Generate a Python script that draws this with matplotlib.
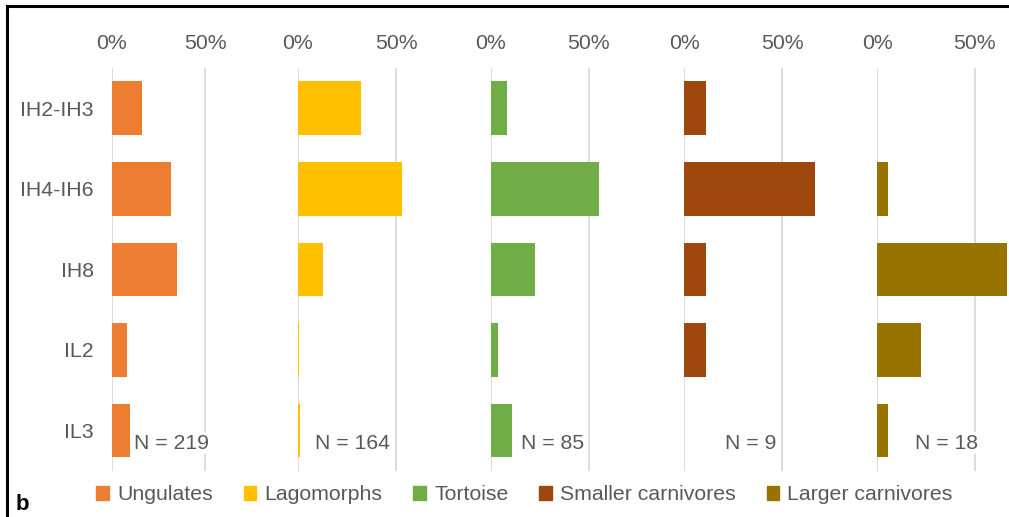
import matplotlib.pyplot as plt
from matplotlib.lines import Line2D

plt.rcParams['font.family'] = ['Liberation Sans', 'DejaVu Sans']

# layers, top to bottom
levels = ['IH2-IH3', 'IH4-IH6', 'IH8', 'IL2', 'IL3']

# share of each group per layer (%)
groups = ['Ungulates', 'Lagomorphs', 'Tortoise', 'Smaller carnivores', 'Larger carnivores']
ungulates = [16.0, 31.5, 34.7, 8.2, 9.6]
lagomorphs = [32.3, 53.0, 12.8, 0.6, 1.2]
tortoise = [8.2, 55.3, 22.4, 3.5, 10.6]
smaller_carn = [11.1, 66.7, 11.1, 11.1, 0.0]
larger_carn = [0.0, 5.6, 66.7, 22.2, 5.6]
totals = [219, 164, 85, 9, 18]

colors = ['#ED7D31', '#FFC000', '#70AD47', '#9E480E', '#997300']
series = [ungulates, lagomorphs, tortoise, smaller_carn, larger_carn]

W, H = 1009, 517
fig = plt.figure(figsize=(W / 100, H / 100), dpi=100)

# panel layout in pixels: left edge (0%) and pixels per 100%
lefts = [111.7, 297.7, 491, 684.3, 877.3]
scales = [187.2, 196.6, 195.4, 195.4, 194.6]
n_right = [0.518, 0.469, 0.476, 0.469, 0.519]
top_px, bot_px = 68, 470.7
xmax = 67

fs = 15.3
grey = '#595959'
for i, vals in enumerate(series):
    ax = fig.add_axes([lefts[i] / W, 1 - bot_px / H,
                       scales[i] * xmax / 100 / W, (bot_px - top_px) / H])
    ax.barh(range(len(levels)), vals, height=0.665, color=colors[i], zorder=2)
    ax.set_xlim(0, xmax)
    ax.set_ylim(len(levels) - 0.5, -0.5)
    ax.set_xticks([0, 50])
    ax.set_xticklabels(['0%', '50%'])
    ax.xaxis.tick_top()
    ax.tick_params(axis='x', length=0, pad=11, labelsize=fs, labelcolor=grey)
    ax.grid(axis='x', color='#D9D9D9', linewidth=1.3, zorder=0)
    for s in ax.spines.values():
        s.set_visible(False)
    if i == 0:
        ax.set_yticks(range(len(levels)))
        ax.set_yticklabels(levels)
        ax.tick_params(axis='y', length=0, pad=13, labelsize=fs, labelcolor=grey)
    else:
        ax.set_yticks([])
    ax.text(n_right[i] * 100, 4.16, 'N = %d' % totals[i], ha='right', va='center',
            fontsize=fs, color=grey, zorder=3,
            bbox=dict(facecolor='white', edgecolor='none', pad=1))
    ax.patch.set_alpha(0)

handles = [plt.Rectangle((0, 0), 1, 1, color=c) for c in colors]
fig.legend(handles, groups, ncol=5, loc='center', bbox_to_anchor=(524.5 / W, 1 - 495 / H),
           frameon=False, fontsize=fs, labelcolor=grey, handlelength=0.58,
           handleheight=0.58, handletextpad=0.4, columnspacing=1.45, borderpad=0)

fig.text(16 / W, 1 - 505 / H, 'b', fontsize=16, fontweight='bold', va='center')

# frame around the figure
lw = 2.2
fig.add_artist(Line2D([7 / W, 1.01], [1 - 6 / H, 1 - 6 / H], color='black', linewidth=lw))
fig.add_artist(Line2D([7 / W, 7 / W], [-0.01, 1 - 6 / H], color='black', linewidth=lw))

fig.savefig('out.png', dpi=100)
